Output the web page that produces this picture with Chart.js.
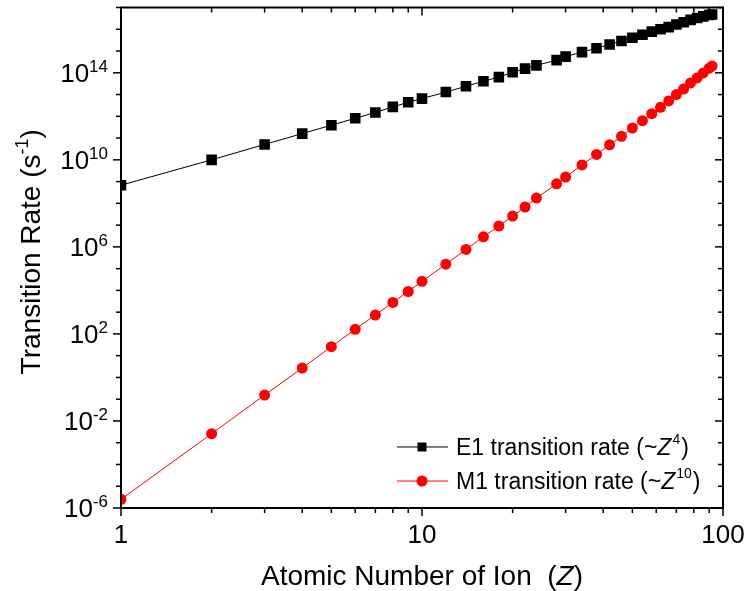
<!DOCTYPE html>
<html>
<head>
<meta charset="utf-8">
<script src="https://cdn.jsdelivr.net/npm/chart.js@4.4.1/dist/chart.umd.min.js"></script>
<style>
    html, body { margin: 0; padding: 0; background: #fff; }
    #wrap { width: 744px; height: 591px; position: relative; }
</style>
</head>
<body>
<div id="wrap"><canvas id="chart" width="744" height="591"></canvas></div>
<script>
// Atomic number Z of each ion
const zValues = [1, 2, 3, 4, 5, 6, 7, 8, 9, 10, 12, 14, 16, 18, 20, 22, 24, 28, 30, 34,
    38, 42, 46, 50, 54, 58, 62, 66, 70, 74, 78, 82, 86, 90, 92];

// E1 transition rate (s^-1)
const e1Rates = [6.8e8, 1.0e10, 5.1e10, 1.6e11, 3.9e11, 8.1e11, 1.5e12, 2.7e12, 4.4e12, 6.5e12,
    1.3e13, 2.4e13, 4.1e13, 6.3e13, 1.05e14, 1.55e14, 2.2e14, 3.8e14, 5.5e14, 8.9e14,
    1.35e15, 2.0e15, 2.9e15, 4.1e15, 5.6e15, 7.8e15, 1.0e16, 1.26e16, 1.66e16, 2.1e16,
    2.7e16, 3.3e16, 3.9e16, 4.5e16, 4.8e16];

// M1 transition rate (s^-1)
const m1Rates = [2.5e-6, 2.6e-3, 0.155, 2.7, 26, 162, 740, 2.8e3, 8.9e3, 2.6e4,
    1.6e5, 7.6e5, 2.9e6, 9.1e6, 2.6e7, 6.8e7, 1.74e8, 7.9e8, 1.62e9, 5.8e9,
    1.78e10, 4.9e10, 1.2e11, 2.9e11, 6.3e11, 1.32e12, 2.6e12, 5.1e12, 1.0e13, 1.8e13,
    3.4e13, 5.8e13, 9.8e13, 1.62e14, 2.04e14];

// axis ticks
const xMajorTicks = [1, 10, 100];
const xMinorTicks = [2, 3, 4, 5, 6, 7, 8, 9, 20, 30, 40, 50, 60, 70, 80, 90];
const yMajorExponents = [-6, -2, 2, 6, 10, 14];
const yMinorExponents = [-5, -4, -3, -1, 0, 1, 3, 4, 5, 7, 8, 9, 11, 12, 13, 15, 16, 17];

const seriesLabels = ['E1 transition rate (~', 'M1 transition rate (~'];
const seriesPowers = ['4', '10'];

const FONT = 'Arial, "Liberation Sans", sans-serif';

const toPoints = (ys) => zValues.map((z, i) => ({ x: z, y: ys[i] }));

// superscript text helper: base then raised exponent, right aligned at x
function drawPow(ctx, base, exp, xRight, yMid, baseSize, expSize) {
    ctx.font = expSize + 'px ' + FONT;
    const ew = ctx.measureText(exp).width;
    ctx.font = baseSize + 'px ' + FONT;
    const bw = ctx.measureText(base).width;
    ctx.textBaseline = 'alphabetic';
    ctx.textAlign = 'left';
    ctx.fillText(base, xRight - ew - bw, yMid + baseSize * 0.36);
    ctx.font = expSize + 'px ' + FONT;
    ctx.fillText(exp, xRight - ew, yMid - 1);
}

const frameAndTicks = {
    id: 'frameAndTicks',
    afterDraw(chart) {
        const { ctx, chartArea: a, scales } = chart;
        const xs = scales.x, ys = scales.y;
        ctx.save();
        ctx.strokeStyle = '#000';
        ctx.fillStyle = '#000';
        ctx.lineWidth = 2;
        ctx.strokeRect(a.left, a.top, a.right - a.left, a.bottom - a.top);

        ctx.lineWidth = 1.5;
        const tick = (x1, y1, x2, y2) => {
            ctx.beginPath();
            ctx.moveTo(x1, y1);
            ctx.lineTo(x2, y2);
            ctx.stroke();
        };
        // x ticks: out at bottom, in at top
        xMajorTicks.forEach((v) => {
            const px = xs.getPixelForValue(v);
            tick(px, a.bottom, px, a.bottom + 8);
            tick(px, a.top, px, a.top + 8);
        });
        xMinorTicks.forEach((v) => {
            const px = xs.getPixelForValue(v);
            tick(px, a.bottom, px, a.bottom + 5);
            tick(px, a.top, px, a.top + 5);
        });
        // y ticks: out at left, in at right
        yMajorExponents.forEach((e) => {
            const py = ys.getPixelForValue(Math.pow(10, e));
            tick(a.left - 8, py, a.left, py);
            tick(a.right - 8, py, a.right, py);
        });
        yMinorExponents.forEach((e) => {
            const py = ys.getPixelForValue(Math.pow(10, e));
            tick(a.left - 5, py, a.left, py);
            tick(a.right - 5, py, a.right, py);
        });

        // tick labels
        ctx.font = '26px ' + FONT;
        ctx.textAlign = 'center';
        ctx.textBaseline = 'alphabetic';
        xMajorTicks.forEach((v) => {
            ctx.fillText(String(v), xs.getPixelForValue(v), a.bottom + 35);
        });
        yMajorExponents.forEach((e) => {
            const py = ys.getPixelForValue(Math.pow(10, e));
            drawPow(ctx, '10', String(e), a.left - 13, py, 26, 17);
        });

        // axis titles
        const TS = 28;
        ctx.textAlign = 'left';
        const t1 = 'Atomic Number of Ion  (';
        ctx.font = TS + 'px ' + FONT;
        const w1 = ctx.measureText(t1).width;
        ctx.font = 'italic ' + TS + 'px ' + FONT;
        const w2 = ctx.measureText('Z').width;
        ctx.font = TS + 'px ' + FONT;
        const w3 = ctx.measureText(')').width;
        const cx = (a.left + a.right) / 2;
        const x0 = cx - (w1 + w2 + w3) / 2;
        const ty = 585;
        ctx.fillText(t1, x0, ty);
        ctx.font = 'italic ' + TS + 'px ' + FONT;
        ctx.fillText('Z', x0 + w1, ty);
        ctx.font = TS + 'px ' + FONT;
        ctx.fillText(')', x0 + w1 + w2, ty);

        ctx.save();
        ctx.translate(40, (a.top + a.bottom) / 2 - 6);
        ctx.rotate(-Math.PI / 2);
        const s1 = 'Transition Rate (s';
        ctx.font = TS + 'px ' + FONT;
        const sw1 = ctx.measureText(s1).width;
        ctx.font = '18px ' + FONT;
        const sw2 = ctx.measureText('-1').width;
        ctx.font = TS + 'px ' + FONT;
        const sw3 = ctx.measureText(')').width;
        const sx = -(sw1 + sw2 + sw3) / 2;
        ctx.fillText(s1, sx, 0);
        ctx.font = '18px ' + FONT;
        ctx.fillText('-1', sx + sw1, -12);
        ctx.font = TS + 'px ' + FONT;
        ctx.fillText(')', sx + sw1 + sw2, 0);
        ctx.restore();

        // legend
        const rows = [
            { color: '#000', style: 'rect', y: 447 },
            { color: '#ff0000', style: 'circle', y: 481 },
        ];
        rows.forEach((r, i) => {
            ctx.strokeStyle = r.color;
            ctx.fillStyle = r.color;
            ctx.lineWidth = 1;
            tick(397, r.y, 448, r.y);
            ctx.beginPath();
            if (r.style === 'rect') {
                ctx.rect(422 - 4.5, r.y - 4.5, 9, 9);
            } else {
                ctx.arc(422, r.y, 5.5, 0, Math.PI * 2);
            }
            ctx.fill();
            ctx.fillStyle = '#000';
            ctx.font = '23px ' + FONT;
            const lbl = seriesLabels[i];
            const lw = ctx.measureText(lbl).width;
            const bx = 456;
            const by = r.y + 8;
            ctx.fillText(lbl, bx, by);
            ctx.font = 'italic 23px ' + FONT;
            const zw = ctx.measureText('Z').width;
            ctx.fillText('Z', bx + lw, by);
            ctx.font = '14px ' + FONT;
            const pw = ctx.measureText(seriesPowers[i]).width;
            ctx.fillText(seriesPowers[i], bx + lw + zw + 1, by - 11);
            ctx.font = '23px ' + FONT;
            ctx.fillText(')', bx + lw + zw + pw + 2, by);
        });
        ctx.restore();
    },
};

new Chart(document.getElementById('chart'), {
    type: 'line',
    data: {
        datasets: [
            {
                label: 'M1 transition rate',
                data: toPoints(m1Rates),
                borderColor: '#ff0000',
                backgroundColor: '#ff0000',
                borderWidth: 1,
                pointStyle: 'circle',
                pointRadius: 5.5,
                pointBorderWidth: 0,
                tension: 0,
            },
            {
                label: 'E1 transition rate',
                data: toPoints(e1Rates),
                borderColor: '#000',
                backgroundColor: '#000',
                borderWidth: 1,
                pointStyle: 'rect',
                pointRadius: 7.5,
                pointBorderWidth: 0,
                tension: 0,
            },
        ],
    },
    options: {
        responsive: false,
        animation: false,
        devicePixelRatio: 1,
        layout: { padding: { top: 6, right: 21, left: 0, bottom: 0 } },
        plugins: {
            legend: { display: false },
            tooltip: { enabled: false },
        },
        scales: {
            x: {
                type: 'logarithmic',
                min: 1,
                max: 100,
                grid: { display: false },
                border: { display: false },
                ticks: { display: false },
                afterFit: (s) => { s.height = 83; },
            },
            y: {
                type: 'logarithmic',
                min: 1e-6,
                max: 1e17,
                grid: { display: false },
                border: { display: false },
                ticks: { display: false },
                afterFit: (s) => { s.width = 121; },
            },
        },
    },
    plugins: [frameAndTicks],
});
</script>
</body>
</html>
